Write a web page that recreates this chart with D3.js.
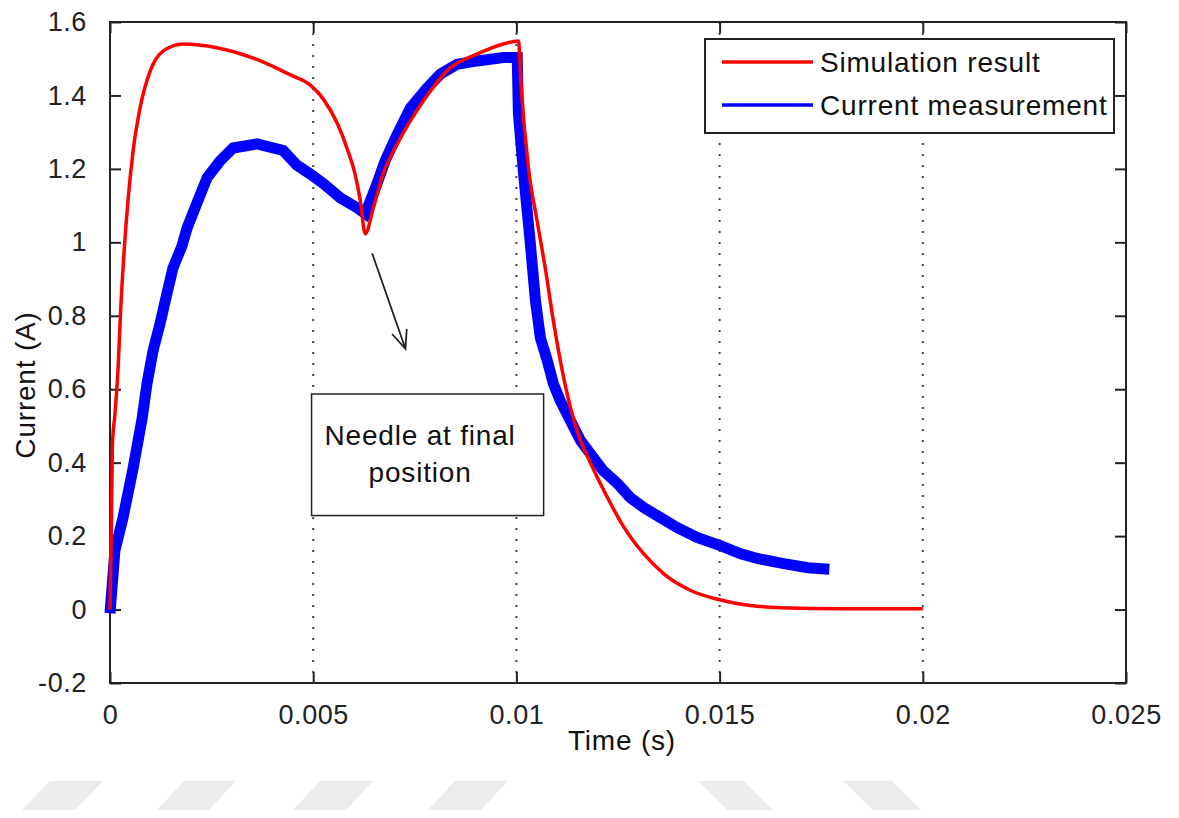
<!DOCTYPE html>
<html>
<head>
<meta charset="utf-8">
<script src="https://cdn.jsdelivr.net/npm/d3@7"></script>
<style>
  body { margin: 0; background: #fff; }
  svg { font-family: "Liberation Sans", Arial, sans-serif; }
</style>
</head>
<body>
<svg id="chart" width="1179" height="818"></svg>
<script>
// simulation result (time s, current A)
const simTime = [0, 0.00003, 0.00006, 0.00012, 0.0002, 0.00026, 0.00035, 0.00044, 0.00057, 0.00074, 0.00099, 0.0013, 0.0018,
  0.00263, 0.0037, 0.0044, 0.00493, 0.00525, 0.0056, 0.00583, 0.00603, 0.00616, 0.00628, 0.00648, 0.00672,
  0.00707, 0.00771, 0.00837, 0.00904, 0.00968, 0.01005, 0.01012, 0.0103, 0.01051, 0.01071, 0.01091, 0.01113, 0.01133,
  0.01158, 0.01182, 0.01224, 0.01264, 0.01313, 0.01362, 0.01429, 0.01495, 0.01576, 0.0165, 0.018, 0.02];
const simCurrent = [0, 0.2, 0.45, 0.53, 0.66, 0.81, 0.98, 1.11, 1.25, 1.366, 1.467, 1.52, 1.54,
  1.53, 1.494, 1.458, 1.428, 1.39, 1.322, 1.257, 1.186, 1.113, 1.023, 1.094, 1.186,
  1.268, 1.385, 1.475, 1.513, 1.54, 1.548, 1.42, 1.2, 1.058, 0.93, 0.786, 0.65, 0.55,
  0.46, 0.40, 0.305, 0.225, 0.152, 0.098, 0.052, 0.028, 0.011, 0.005, 0.002, 0.002];

// current measurement
const measTime = [0, 0.00012, 0.00032, 0.00057, 0.00079, 0.00091, 0.00106, 0.00123, 0.0014, 0.00155, 0.00177, 0.0019,
  0.00215, 0.00239, 0.00271, 0.00303, 0.00362, 0.00426, 0.0046, 0.00493, 0.00525, 0.00567, 0.00608, 0.00628,
  0.00653, 0.00677, 0.00707, 0.00739, 0.0078, 0.00813, 0.00854, 0.00904, 0.00968, 0.01002, 0.01005, 0.01017,
  0.01034, 0.01047, 0.01059, 0.01076, 0.01091, 0.01108, 0.01133, 0.01158, 0.01182, 0.01214, 0.01249, 0.0128,
  0.01313, 0.01355, 0.01396, 0.01446, 0.01502, 0.01552, 0.01593, 0.01658, 0.01717, 0.0177];
const measCurrent = [-0.01, 0.16, 0.25, 0.386, 0.52, 0.615, 0.705, 0.778, 0.86, 0.93, 0.99, 1.04,
  1.11, 1.176, 1.222, 1.257, 1.268, 1.25, 1.21, 1.186, 1.16, 1.121, 1.094, 1.078,
  1.148, 1.222, 1.295, 1.366, 1.42, 1.458, 1.485, 1.494, 1.503, 1.503, 1.35, 1.195,
  1.0, 0.84, 0.74, 0.678, 0.615, 0.569, 0.514, 0.46, 0.424, 0.378, 0.343, 0.305,
  0.278, 0.25, 0.223, 0.196, 0.174, 0.152, 0.139, 0.125, 0.114, 0.11];

const xTicks = [0, 0.005, 0.01, 0.015, 0.02, 0.025];
const yTicks = [-0.2, 0, 0.2, 0.4, 0.6, 0.8, 1, 1.2, 1.4, 1.6];
const gridTicks = [0.005, 0.01, 0.015, 0.02];
const seriesNames = ["Simulation result", "Current measurement"];
const seriesColors = ["#ff0000", "#0000ff"];

// annotation: arrow from dip to text box (data units)
const arrowFrom = [0.00645, 0.97];
const arrowTo = [0.00727, 0.71];
const noteLines = ["Needle at final", "position"];

const svg = d3.select("#chart");
const mLeft = 110, mRight = 1126, mTop = 22, mBottom = 683;

const x = d3.scaleLinear().domain([0, 0.025]).range([mLeft, mRight]);
const y = d3.scaleLinear().domain([-0.2, 1.6]).range([mBottom, mTop]);

// watermark shapes at the bottom
const marks = [
  [[22, 810], [50, 781], [103, 781], [75, 810]],
  [[157, 810], [184, 781], [236, 781], [209, 810]],
  [[293, 810], [320, 781], [373, 781], [346, 810]],
  [[428, 810], [455, 781], [508, 781], [481, 810]],
  [[698, 781], [744, 781], [773, 810], [727, 810]],
  [[843, 781], [892, 781], [921, 810], [873, 810]]
];
svg.append("g").selectAll("polygon").data(marks).join("polygon")
  .attr("points", d => d.map(p => p.join(",")).join(" "))
  .attr("fill", "#ececec");

// dotted grid
svg.append("g").selectAll("line").data(gridTicks).join("line")
  .attr("x1", d => x(d)).attr("x2", d => x(d))
  .attr("y1", mTop).attr("y2", mBottom)
  .attr("stroke", "#444").attr("stroke-width", 2)
  .attr("stroke-dasharray", "2,9");

// axes (inward ticks, all four sides)
const tickStyle = g => {
  g.select(".domain").remove();
  g.selectAll(".tick line").attr("stroke", "#222").attr("stroke-width", 2);
  g.selectAll(".tick text").attr("fill", "#222").attr("font-size", 27).attr("letter-spacing", 0.6);
};
svg.append("g").attr("transform", `translate(0,${mBottom})`)
  .call(d3.axisBottom(x).tickValues(xTicks).tickSize(-11).tickPadding(22).tickFormat(d => String(+d.toFixed(3))))
  .call(tickStyle);
svg.append("g").attr("transform", `translate(0,${mTop})`)
  .call(d3.axisTop(x).tickValues(xTicks).tickSize(-11).tickFormat(""))
  .call(tickStyle);
svg.append("g").attr("transform", `translate(${mLeft},0)`)
  .call(d3.axisLeft(y).tickValues(yTicks).tickSize(-11).tickPadding(23).tickFormat(d => String(+d.toFixed(1))))
  .call(tickStyle);
svg.append("g").attr("transform", `translate(${mRight},0)`)
  .call(d3.axisRight(y).tickValues(yTicks).tickSize(-11).tickFormat(""))
  .call(tickStyle);

svg.append("rect")
  .attr("x", mLeft).attr("y", mTop).attr("width", mRight - mLeft).attr("height", mBottom - mTop)
  .attr("fill", "none").attr("stroke", "#222").attr("stroke-width", 2);

// series
const measData = measTime.map((t, i) => [t, measCurrent[i]]);
const simData = simTime.map((t, i) => [t, simCurrent[i]]);

svg.append("path").datum(measData)
  .attr("d", d3.line().x(d => x(d[0])).y(d => y(d[1])))
  .attr("fill", "none").attr("stroke", seriesColors[1]).attr("stroke-width", 11)
  .attr("stroke-linejoin", "miter");

svg.append("path").datum(simData)
  .attr("d", d3.line().x(d => x(d[0])).y(d => y(d[1])).curve(d3.curveMonotoneX))
  .attr("fill", "none").attr("stroke", seriesColors[0]).attr("stroke-width", 3.5);

// arrow annotation
const ax1 = x(arrowFrom[0]), ay1 = y(arrowFrom[1]);
const ax2 = x(arrowTo[0]), ay2 = y(arrowTo[1]);
const ang = Math.atan2(ay2 - ay1, ax2 - ax1);
const head = 20, spread = 0.4;
svg.append("path")
  .attr("d", `M${ax1},${ay1}L${ax2},${ay2}` +
    `M${ax2 - head * Math.cos(ang - spread)},${ay2 - head * Math.sin(ang - spread)}L${ax2},${ay2}` +
    `L${ax2 - head * Math.cos(ang + spread)},${ay2 - head * Math.sin(ang + spread)}`)
  .attr("fill", "none").attr("stroke", "#222").attr("stroke-width", 1.8);

// text box
const note = svg.append("g");
note.append("rect")
  .attr("x", x(0.00496)).attr("y", y(0.587))
  .attr("width", x(0.01067) - x(0.00496)).attr("height", y(0.256) - y(0.587))
  .attr("fill", "#fff").attr("stroke", "#222").attr("stroke-width", 1.5);
note.selectAll("text").data(noteLines).join("text")
  .attr("x", x(0.00763)).attr("y", (d, i) => y(0.448) + i * 37)
  .attr("text-anchor", "middle").attr("font-size", 28).attr("letter-spacing", 0.8).attr("fill", "#111")
  .text(d => d);

// legend
const legend = svg.append("g");
legend.append("rect")
  .attr("x", 705).attr("y", 39).attr("width", 409).attr("height", 94)
  .attr("fill", "#fff").attr("stroke", "#222").attr("stroke-width", 2);
const items = legend.selectAll("g.item").data(seriesNames).join("g")
  .attr("class", "item")
  .attr("transform", (d, i) => `translate(0,${62 + i * 43})`);
items.append("line")
  .attr("x1", 722).attr("x2", 813)
  .attr("stroke", (d, i) => seriesColors[i]).attr("stroke-width", 3.5);
items.append("text")
  .attr("x", 820).attr("y", 10)
  .attr("font-size", 28).attr("letter-spacing", 0.8).attr("fill", "#111")
  .text(d => d);

// axis labels
svg.append("text")
  .attr("x", 622).attr("y", 750)
  .attr("text-anchor", "middle").attr("font-size", 28).attr("letter-spacing", 0.8).attr("fill", "#111")
  .text("Time (s)");
svg.append("text")
  .attr("transform", "translate(35,385) rotate(-90)")
  .attr("text-anchor", "middle").attr("font-size", 28).attr("letter-spacing", 0.8).attr("fill", "#111")
  .text("Current (A)");
</script>
</body>
</html>
